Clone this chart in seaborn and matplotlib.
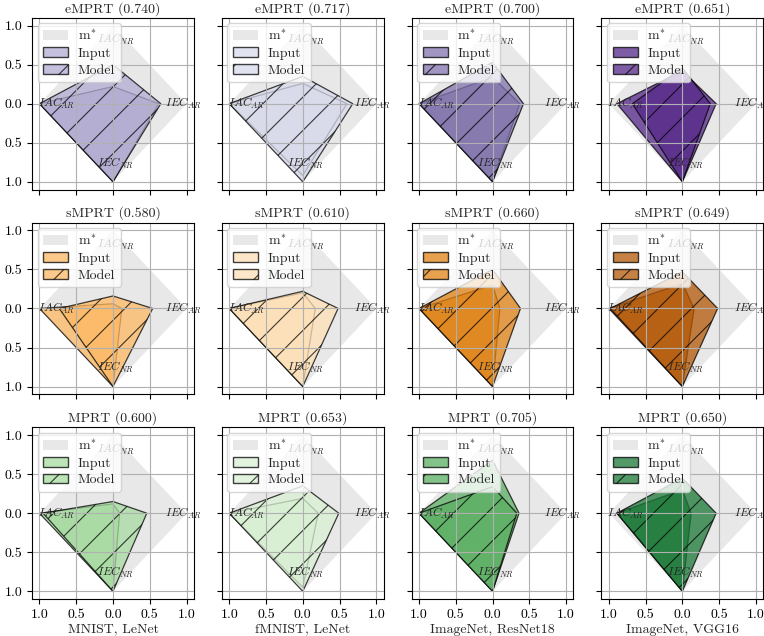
import numpy as np
import matplotlib
matplotlib.use("Agg")
import matplotlib.pyplot as plt
from matplotlib.patches import Patch
from matplotlib.ticker import FuncFormatter
import seaborn as sns

# ---- data ----
metrics = ["eMPRT", "sMPRT", "MPRT"]
scores = [[0.740, 0.717, 0.700, 0.651],
          [0.580, 0.610, 0.660, 0.649],
          [0.600, 0.653, 0.705, 0.650]]
datasets = ["MNIST, LeNet", "fMNIST, LeNet", "ImageNet, ResNet18", "ImageNet, VGG16"]
# order of vertices: IAC_NR (top), IEC_AR (right), IEC_NR (bottom), IAC_AR (left)
vertex_labels = [r"$IAC_{NR}$", r"$IEC_{AR}$", r"$IEC_{NR}$", r"$IAC_{AR}$"]
optimum = [1.0, 1.0, 1.0, 1.0]

emprt_input = [[0.22, 0.62, 1.0, 1.0], [0.26, 0.60, 0.92, 1.0], [0.34, 0.37, 1.0, 1.0], [0.42, 0.46, 1.0, 0.89]]
emprt_model = [[0.50, 0.65, 1.0, 1.0], [0.35, 0.68, 1.0, 1.0], [0.53, 0.42, 1.0, 1.0], [0.46, 0.38, 1.0, 0.68]]
smprt_input = [[0.06, 0.12, 1.0, 1.0], [0.20, 0.17, 1.0, 1.0], [0.30, 0.10, 1.0, 1.0], [0.32, 0.16, 1.0, 1.0]]
smprt_model = [[0.16, 0.54, 1.0, 0.73], [0.22, 0.48, 1.0, 1.0], [0.50, 0.38, 1.0, 1.0], [0.47, 0.48, 1.0, 0.98]]
mprt_input = [[0.12, 0.09, 1.0, 1.0], [0.19, 0.21, 0.95, 1.0], [0.68, 0.36, 1.0, 1.0], [0.30, 0.12, 1.0, 0.89]]
mprt_model = [[0.15, 0.46, 1.0, 0.95], [0.35, 0.49, 1.0, 1.0], [0.34, 0.33, 1.0, 1.0], [0.45, 0.46, 1.0, 0.89]]

inputs = [emprt_input, smprt_input, mprt_input]
models = [emprt_model, smprt_model, mprt_model]

purples = sns.color_palette(["#b2abd2", "#d8daeb", "#8073ac", "#542788"])
oranges = sns.color_palette(["#fdb863", "#fee0b6", "#e08214", "#b35806"])
greens = sns.color_palette(["#a6dba0", "#d9f0d3", "#5aae61", "#1b7837"])
row_colors = [purples, oranges, greens]

# ---- style ----
sns.set_theme(style="whitegrid")
plt.rcParams.update({
    "font.family": ["cmr10", "DejaVu Serif"],
    "mathtext.fontset": "cm",
    "axes.formatter.use_mathtext": True,
    "axes.edgecolor": "black",
    "axes.linewidth": 0.8,
    "axes.facecolor": "white",
    "axes.axisbelow": "line",
    "grid.color": "#b0b0b0",
    "grid.linewidth": 0.8,
    "xtick.bottom": True,
    "ytick.left": True,
    "xtick.color": "black",
    "ytick.color": "black",
    "xtick.major.size": 3.5,
    "ytick.major.size": 3.5,
    "xtick.major.width": 0.8,
    "ytick.major.width": 0.8,
    "font.size": 10,
    "axes.titlesize": 10,
    "axes.labelsize": 10,
    "xtick.labelsize": 10,
    "ytick.labelsize": 10,
    "hatch.linewidth": 0.8,
})


def to_xy(v):
    top, right, bottom, left = v
    return [0, right, 0, -left], [top, 0, -bottom, 0]


fig, axes = plt.subplots(3, 4, figsize=(7.64, 6.36), dpi=100, sharex=True, sharey=True)
fig.subplots_adjust(left=0.042, right=0.999, top=0.972, bottom=0.058, wspace=0.173, hspace=0.192)

label_pos = [(0.04, 0.82), (0.95, 0.0), (0.04, -0.76), (-0.77, 0.0)]
absfmt = FuncFormatter(lambda v, p: f"{abs(v):.1f}")

for r in range(3):
    for c in range(4):
        ax = axes[r, c]
        col = row_colors[r][c]
        ox, oy = to_xy(optimum)
        ax.fill(ox, oy, color="lightgray", alpha=0.5, lw=0, zorder=0.5)
        ix, iy = to_xy(inputs[r][c])
        ax.fill(ix, iy, facecolor=col, edgecolor="black", alpha=0.75, lw=0.9, zorder=1)
        mx, my = to_xy(models[r][c])
        ax.fill(mx, my, facecolor=col, edgecolor="black", alpha=0.75, lw=0.9, hatch="/", zorder=1.1)
        for lab, (tx, ty) in zip(vertex_labels, label_pos):
            ax.text(tx, ty, lab, ha="center", va="center", fontsize=8.5, zorder=3)
        ax.set_xlim(-1.1, 1.1)
        ax.set_ylim(-1.1, 1.1)
        ax.set_xticks([-1, -0.5, 0, 0.5, 1])
        ax.set_yticks([-1, -0.5, 0, 0.5, 1])
        ax.xaxis.set_major_formatter(absfmt)
        ax.yaxis.set_major_formatter(absfmt)
        ax.grid(True)
        ax.set_title(f"{metrics[r]} ({scores[r][c]:.3f})", pad=4)
        if r == 2:
            ax.set_xlabel(datasets[c], labelpad=2)
        handles = [Patch(facecolor="lightgray", alpha=0.5, lw=0, label=r"m$^{*}$"),
                   Patch(facecolor=col, edgecolor="black", alpha=0.75, label="Input"),
                   Patch(facecolor=col, edgecolor="black", alpha=0.75, hatch="/", label="Model")]
        ax.legend(handles=handles, loc="upper left", fontsize=10, framealpha=0.8,
                  borderaxespad=0.4, labelspacing=0.3, handlelength=1.8,
                  handletextpad=0.7, borderpad=0.4)

fig.savefig("out.png", dpi=100)
